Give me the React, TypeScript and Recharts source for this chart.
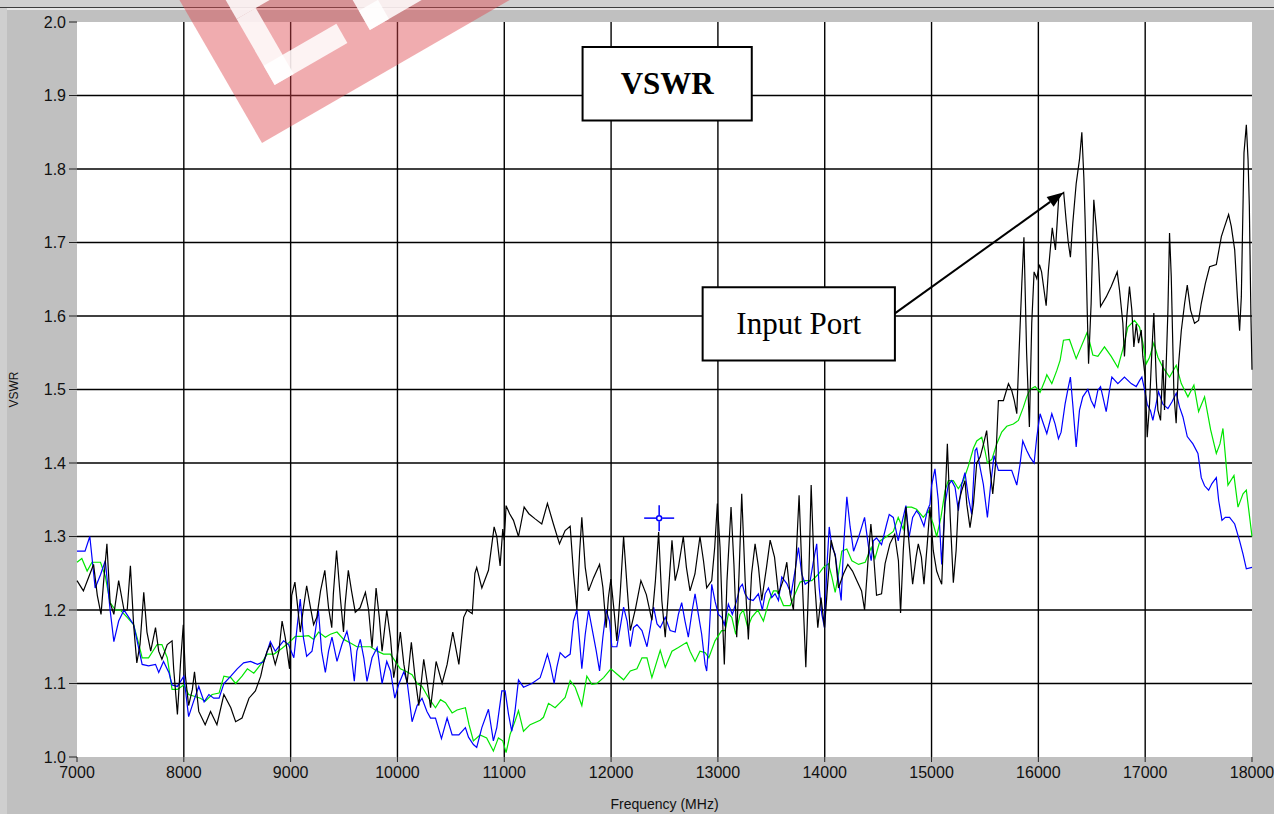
import React from "react";
import {
  CartesianGrid,
  Line,
  LineChart,
  ReferenceArea,
  ReferenceDot,
  ReferenceLine,
  XAxis,
  YAxis,
} from "recharts";

// frequency ticks / grid (MHz)
const freqTicks = [7000, 8000, 9000, 10000, 11000, 12000, 13000, 14000, 15000, 16000, 17000, 18000];
const vswrTicks = [1.0, 1.1, 1.2, 1.3, 1.4, 1.5, 1.6, 1.7, 1.8, 1.9, 2.0];
const freqGrid = [8000, 9000, 10000, 11000, 12000, 13000, 14000, 15000, 16000, 17000];
const vswrGrid = [1.1, 1.2, 1.3, 1.4, 1.5, 1.6, 1.7, 1.8, 1.9];

// black trace (input port)
const blackFreq = [
  7000, 7060, 7110, 7155, 7190, 7225, 7250, 7280, 7310, 7345, 7390, 7440, 7470, 7500, 7530, 7560, 7590, 7625,
  7655, 7690, 7735, 7765, 7795, 7845, 7890, 7905, 7940, 7970, 7995, 8015, 8045, 8080, 8100, 8140, 8200, 8250,
  8310, 8375, 8440, 8485, 8545, 8610, 8670, 8720, 8750, 8780, 8810, 8840, 8856, 8890, 8920, 8950, 8990, 9010,
  9040, 9060, 9090, 9120, 9150, 9180, 9215, 9245, 9280, 9320, 9355, 9385, 9400, 9430, 9465, 9495, 9510, 9540,
  9570, 9605, 9650, 9700, 9730, 9762, 9800, 9830, 9856, 9900, 9935, 9965, 9995, 10027, 10060, 10090, 10130,
  10165, 10200, 10246, 10280, 10310, 10362, 10418, 10465, 10518, 10575, 10620, 10652, 10700, 10725, 10742,
  10790, 10852, 10905, 10930, 10961, 10986, 11000, 11017, 11050, 11086, 11133, 11186, 11230, 11289, 11351,
  11404, 11460, 11517, 11570, 11617, 11648, 11680, 11705, 11726, 11758, 11789, 11836, 11892, 11923, 11954,
  11975, 11998, 12025, 12054, 12085, 12117, 12150, 12180, 12230, 12279, 12330, 12382, 12415, 12445, 12475,
  12507, 12540, 12570, 12600, 12630, 12676, 12705, 12739, 12785, 12832, 12865, 12895, 12942, 12970, 12995,
  13020, 13040, 13060, 13085, 13123, 13150, 13176, 13200, 13223, 13255, 13285, 13315, 13348, 13380, 13410,
  13455, 13489, 13530, 13567, 13610, 13645, 13675, 13707, 13735, 13760, 13790, 13823, 13850, 13873, 13905,
  13935, 13965, 13998, 14030, 14060, 14100, 14129, 14175, 14216, 14260, 14300, 14345, 14373, 14410, 14432,
  14455, 14485, 14532, 14565, 14610, 14655, 14690, 14710, 14735, 14760, 14790, 14823, 14855, 14876, 14905,
  14929, 14960, 14985, 15016, 15048, 15070, 15095, 15120, 15148, 15175, 15204, 15230, 15251, 15282, 15313,
  15330, 15360, 15392, 15423, 15455, 15485, 15516, 15545, 15573, 15600, 15626, 15673, 15720, 15750, 15775,
  15798, 15820, 15845, 15865, 15890, 15916, 15938, 15960, 15985, 16010, 16030, 16073, 16094, 16130, 16160,
  16190, 16213, 16237, 16260, 16280, 16300, 16322, 16354, 16385, 16407, 16426, 16438, 16457, 16470, 16494,
  16519, 16541, 16563, 16582, 16635, 16682, 16738, 16760, 16791, 16806, 16828, 16853, 16875, 16894, 16916,
  16938, 16963, 16978, 17000, 17019, 17041, 17063, 17081, 17103, 17119, 17144, 17166, 17181, 17197, 17213,
  17228, 17244, 17269, 17290, 17313, 17338, 17369, 17394, 17425, 17462, 17500, 17525, 17563, 17603, 17666,
  17713, 17744, 17781, 17806, 17838, 17863, 17884, 17900, 17925, 17947, 17963, 17975, 17990, 18000,
];
const blackVswr = [
  1.24, 1.226, 1.245, 1.262, 1.22, 1.194, 1.24, 1.29, 1.21, 1.194, 1.24, 1.2, 1.2, 1.26, 1.18, 1.128, 1.153, 1.224,
  1.17, 1.144, 1.176, 1.144, 1.133, 1.153, 1.158, 1.12, 1.058, 1.13, 1.18, 1.11, 1.07, 1.092, 1.116, 1.062, 1.044, 1.062,
  1.044, 1.085, 1.067, 1.048, 1.053, 1.08, 1.09, 1.11, 1.13, 1.144, 1.153, 1.135, 1.126, 1.144, 1.185, 1.162, 1.12, 1.22,
  1.238, 1.212, 1.17, 1.203, 1.233, 1.208, 1.18, 1.19, 1.226, 1.254, 1.203, 1.176, 1.222, 1.281, 1.217, 1.17, 1.208, 1.254,
  1.226, 1.197, 1.203, 1.224, 1.2, 1.149, 1.23, 1.19, 1.144, 1.2, 1.162, 1.108, 1.135, 1.17, 1.126, 1.1, 1.156,
  1.108, 1.07, 1.133, 1.1, 1.067, 1.13, 1.1, 1.126, 1.17, 1.126, 1.19, 1.2, 1.195, 1.25, 1.258,
  1.23, 1.254, 1.313, 1.3, 1.26, 1.31, 1.295, 1.342, 1.331, 1.322, 1.3, 1.34, 1.331, 1.324, 1.317,
  1.345, 1.317, 1.29, 1.308, 1.314, 1.25, 1.2, 1.278, 1.326, 1.258, 1.226, 1.244, 1.262, 1.231, 1.176,
  1.217, 1.242, 1.203, 1.158, 1.222, 1.3, 1.231, 1.172, 1.203, 1.24, 1.221, 1.186, 1.24, 1.306, 1.213,
  1.163, 1.231, 1.295, 1.24, 1.258, 1.3, 1.258, 1.226, 1.249, 1.3, 1.267, 1.23, 1.24, 1.285, 1.345,
  1.285, 1.2, 1.126, 1.24, 1.34, 1.262, 1.163, 1.258, 1.358, 1.24, 1.16, 1.249, 1.29, 1.258, 1.213,
  1.258, 1.295, 1.272, 1.222, 1.24, 1.265, 1.222, 1.2, 1.28, 1.356, 1.24, 1.122, 1.24, 1.37, 1.24,
  1.176, 1.217, 1.176, 1.24, 1.295, 1.272, 1.23, 1.249, 1.262, 1.253, 1.24, 1.226, 1.2, 1.277, 1.317,
  1.28, 1.22, 1.222, 1.263, 1.29, 1.303, 1.267, 1.196, 1.28, 1.34, 1.29, 1.235, 1.272, 1.29, 1.272,
  1.235, 1.29, 1.34, 1.281, 1.253, 1.244, 1.235, 1.326, 1.426, 1.326, 1.237, 1.281, 1.344, 1.362, 1.376,
  1.344, 1.312, 1.344, 1.4, 1.408, 1.425, 1.444, 1.394, 1.358, 1.4, 1.485, 1.485, 1.508, 1.499, 1.485,
  1.467, 1.553, 1.644, 1.707, 1.55, 1.449, 1.59, 1.66, 1.651, 1.67, 1.66, 1.614, 1.662, 1.72, 1.69,
  1.76, 1.765, 1.768, 1.73, 1.7, 1.68, 1.726, 1.78, 1.813, 1.85, 1.788, 1.73, 1.61, 1.535, 1.617,
  1.758, 1.722, 1.676, 1.613, 1.626, 1.64, 1.66, 1.635, 1.59, 1.545, 1.599, 1.64, 1.608, 1.558, 1.589,
  1.563, 1.581, 1.545, 1.517, 1.435, 1.481, 1.553, 1.604, 1.517, 1.472, 1.458, 1.54, 1.472, 1.535, 1.608,
  1.713, 1.654, 1.494, 1.454, 1.535, 1.58, 1.617, 1.642, 1.608, 1.59, 1.594, 1.617, 1.644, 1.667, 1.67,
  1.708, 1.722, 1.738, 1.722, 1.69, 1.626, 1.58, 1.626, 1.822, 1.86, 1.813, 1.75, 1.6, 1.527,
];

// blue trace
const blueFreq = [
  7000, 7075, 7120, 7170, 7220, 7265, 7310, 7345, 7390, 7440, 7485, 7530, 7560, 7610, 7670, 7735, 7765, 7810,
  7860, 7890, 7940, 8000, 8045, 8090, 8140, 8190, 8235, 8280, 8330, 8375, 8440, 8500, 8560, 8625, 8690, 8750,
  8810, 8856, 8934, 8980, 9030, 9060, 9090, 9120, 9150, 9200, 9230, 9260, 9290, 9325, 9355, 9387, 9434, 9480,
  9527, 9560, 9596, 9620, 9652, 9685, 9715, 9762, 9810, 9856, 9900, 9935, 9975, 10012, 10060, 10090, 10137,
  10184, 10230, 10276, 10310, 10356, 10412, 10465, 10512, 10575, 10636, 10665, 10711, 10742, 10790, 10852,
  10898, 10930, 10977, 11008, 11040, 11070, 11101, 11133, 11180, 11258, 11336, 11367, 11404, 11430, 11467,
  11492, 11523, 11570, 11617, 11648, 11680, 11705, 11726, 11758, 11789, 11820, 11860, 11892, 11923, 11954,
  11985, 12007, 12054, 12085, 12117, 12150, 12180, 12210, 12242, 12289, 12336, 12367, 12398, 12430, 12460,
  12507, 12553, 12600, 12630, 12661, 12692, 12723, 12760, 12786, 12817, 12848, 12880, 12895, 12915, 12942,
  12973, 13004, 13035, 13060, 13098, 13135, 13176, 13207, 13229, 13254, 13285, 13330, 13379, 13416, 13442,
  13473, 13504, 13535, 13567, 13598, 13645, 13685, 13723, 13754, 13785, 13817, 13864, 13895, 13925, 13948,
  13973, 13998, 14020, 14042, 14067, 14098, 14129, 14154, 14176, 14207, 14238, 14270, 14317, 14373, 14410,
  14435, 14455, 14485, 14532, 14580, 14604, 14642, 14688, 14720, 14760, 14790, 14823, 14860, 14885, 14929,
  14960, 14985, 15001, 15032, 15063, 15095, 15126, 15157, 15188, 15220, 15251, 15282, 15313, 15345, 15376,
  15408, 15423, 15454, 15485, 15523, 15554, 15585, 15626, 15704, 15750, 15798, 15829, 15854, 15891, 15922,
  15960, 15985, 16016, 16048, 16079, 16126, 16157, 16188, 16213, 16250, 16280, 16300, 16322, 16354, 16385,
  16416, 16463, 16494, 16525, 16557, 16582, 16604, 16635, 16666, 16688, 16744, 16806, 16869, 16916, 16947,
  16969, 16994, 17019, 17050, 17072, 17103, 17125, 17166, 17213, 17250, 17291, 17322, 17353, 17394, 17447,
  17494, 17525, 17556, 17594, 17625, 17666, 17688, 17719, 17750, 17790, 17838, 17884, 17916, 17947, 18000,
];
const blueVswr = [
  1.28, 1.28, 1.3, 1.23, 1.248, 1.267, 1.2, 1.157, 1.185, 1.2, 1.19, 1.18, 1.16, 1.126, 1.124, 1.126, 1.115, 1.13,
  1.115, 1.098, 1.096, 1.11, 1.055, 1.075, 1.096, 1.075, 1.085, 1.08, 1.08, 1.1, 1.11, 1.12, 1.128, 1.13, 1.126, 1.13,
  1.157, 1.144, 1.158, 1.153, 1.135, 1.176, 1.215, 1.162, 1.137, 1.144, 1.17, 1.2, 1.144, 1.115, 1.144, 1.163, 1.13, 1.153,
  1.171, 1.149, 1.103, 1.144, 1.16, 1.135, 1.103, 1.135, 1.149, 1.1, 1.13, 1.117, 1.08, 1.099, 1.116, 1.103, 1.048,
  1.07, 1.08, 1.062, 1.053, 1.053, 1.025, 1.053, 1.03, 1.03, 1.04, 1.027, 1.017, 1.013, 1.04, 1.065,
  1.022, 1.04, 1.09, 1.09, 1.058, 1.035, 1.063, 1.105, 1.095, 1.1, 1.108, 1.122, 1.14, 1.126, 1.1,
  1.122, 1.142, 1.135, 1.14, 1.185, 1.2, 1.158, 1.12, 1.167, 1.2, 1.176, 1.145, 1.117, 1.163, 1.2,
  1.185, 1.15, 1.15, 1.176, 1.204, 1.185, 1.15, 1.176, 1.18, 1.172, 1.15, 1.176, 1.204, 1.181, 1.176,
  1.19, 1.172, 1.17, 1.194, 1.21, 1.185, 1.163, 1.2, 1.222, 1.194, 1.167, 1.126, 1.117, 1.158, 1.235,
  1.212, 1.194, 1.19, 1.18, 1.208, 1.194, 1.213, 1.231, 1.235, 1.222, 1.215, 1.213, 1.222, 1.2, 1.222,
  1.23, 1.217, 1.222, 1.213, 1.245, 1.236, 1.222, 1.254, 1.285, 1.249, 1.235, 1.24, 1.267, 1.29, 1.231,
  1.194, 1.176, 1.258, 1.313, 1.286, 1.276, 1.24, 1.213, 1.285, 1.354, 1.313, 1.28, 1.299, 1.326, 1.286,
  1.267, 1.294, 1.298, 1.289, 1.317, 1.33, 1.326, 1.294, 1.317, 1.342, 1.299, 1.326, 1.335, 1.33, 1.314,
  1.335, 1.344, 1.37, 1.392, 1.349, 1.262, 1.344, 1.37, 1.376, 1.367, 1.335, 1.371, 1.387, 1.353, 1.33,
  1.417, 1.42, 1.394, 1.371, 1.326, 1.371, 1.41, 1.39, 1.39, 1.39, 1.37, 1.399, 1.43, 1.417, 1.408,
  1.4, 1.435, 1.467, 1.453, 1.44, 1.467, 1.453, 1.433, 1.442, 1.48, 1.503, 1.517, 1.48, 1.422, 1.472,
  1.49, 1.5, 1.485, 1.476, 1.499, 1.504, 1.49, 1.47, 1.499, 1.517, 1.508, 1.517, 1.508, 1.504, 1.512,
  1.517, 1.5, 1.48, 1.471, 1.458, 1.481, 1.497, 1.48, 1.474, 1.483, 1.495, 1.476, 1.463, 1.436, 1.426,
  1.413, 1.38, 1.369, 1.363, 1.372, 1.38, 1.349, 1.322, 1.326, 1.326, 1.317, 1.294, 1.276, 1.256, 1.258,
];

// green trace
const greenFreq = [
  7000, 7045, 7095, 7140, 7220, 7265, 7310, 7360, 7405, 7470, 7530, 7580, 7610, 7670, 7750, 7795, 7845, 7890,
  7940, 8000, 8045, 8090, 8155, 8200, 8265, 8330, 8375, 8440, 8485, 8545, 8595, 8655, 8720, 8780, 8845, 8920,
  8980, 9044, 9106, 9168, 9215, 9262, 9325, 9372, 9434, 9496, 9560, 9620, 9685, 9746, 9810, 9870, 9934, 9980,
  10027, 10074, 10137, 10184, 10230, 10293, 10356, 10403, 10450, 10512, 10558, 10636, 10670, 10711, 10773,
  10835, 10898, 10945, 10986, 11017, 11055, 11101, 11133, 11180, 11242, 11336, 11367, 11414, 11476, 11523,
  11570, 11617, 11664, 11726, 11773, 11820, 11867, 11930, 11998, 12054, 12117, 12180, 12242, 12289, 12336,
  12382, 12460, 12507, 12570, 12630, 12708, 12739, 12786, 12832, 12880, 12915, 12973, 13035, 13067, 13098,
  13130, 13167, 13207, 13238, 13279, 13317, 13373, 13426, 13480, 13520, 13551, 13583, 13614, 13676, 13723,
  13770, 13817, 13879, 13942, 13988, 14035, 14067, 14098, 14129, 14160, 14207, 14254, 14317, 14379, 14435,
  14470, 14517, 14580, 14642, 14688, 14735, 14766, 14813, 14860, 14923, 14970, 15016, 15048, 15088, 15126,
  15157, 15204, 15251, 15298, 15345, 15392, 15423, 15470, 15500, 15523, 15565, 15610, 15657, 15704, 15766,
  15813, 15860, 15891, 15922, 15970, 16016, 16063, 16079, 16126, 16173, 16204, 16235, 16291, 16354, 16400,
  16457, 16510, 16557, 16619, 16682, 16744, 16791, 16838, 16900, 16947, 16979, 17010, 17041, 17081, 17119,
  17166, 17228, 17291, 17338, 17400, 17456, 17500, 17556, 17613, 17666, 17700, 17728, 17775, 17831, 17869,
  17916, 17947, 18000,
];
const greenVswr = [
  1.265, 1.27, 1.253, 1.265, 1.265, 1.246, 1.21, 1.2, 1.2, 1.19, 1.18, 1.153, 1.135, 1.135, 1.153, 1.153, 1.135, 1.092,
  1.092, 1.098, 1.085, 1.083, 1.08, 1.076, 1.085, 1.087, 1.11, 1.108, 1.1, 1.11, 1.12, 1.114, 1.126, 1.14, 1.14, 1.148,
  1.155, 1.164, 1.164, 1.165, 1.16, 1.17, 1.163, 1.167, 1.17, 1.16, 1.155, 1.15, 1.15, 1.15, 1.144, 1.14, 1.14, 1.13,
  1.12, 1.117, 1.112, 1.1, 1.096, 1.08, 1.067, 1.078, 1.074, 1.06, 1.064, 1.067, 1.044, 1.022, 1.03,
  1.026, 1.008, 1.026, 1.022, 1.006, 1.031, 1.049, 1.063, 1.035, 1.044, 1.05, 1.054, 1.073, 1.067, 1.074,
  1.081, 1.104, 1.095, 1.07, 1.11, 1.099, 1.1, 1.108, 1.12, 1.113, 1.105, 1.117, 1.12, 1.135, 1.135,
  1.108, 1.145, 1.122, 1.144, 1.149, 1.156, 1.144, 1.13, 1.144, 1.142, 1.135, 1.158, 1.172, 1.172, 1.195,
  1.19, 1.167, 1.194, 1.2, 1.176, 1.19, 1.2, 1.185, 1.213, 1.226, 1.226, 1.217, 1.206, 1.206, 1.222,
  1.238, 1.24, 1.24, 1.249, 1.258, 1.263, 1.245, 1.224, 1.249, 1.28, 1.283, 1.267, 1.262, 1.265, 1.285,
  1.27, 1.294, 1.3, 1.307, 1.326, 1.31, 1.34, 1.34, 1.337, 1.326, 1.335, 1.317, 1.3, 1.326, 1.362,
  1.376, 1.376, 1.365, 1.376, 1.396, 1.42, 1.43, 1.435, 1.417, 1.4, 1.405, 1.426, 1.442, 1.45, 1.453,
  1.458, 1.476, 1.49, 1.5, 1.504, 1.496, 1.513, 1.52, 1.508, 1.526, 1.54, 1.567, 1.568, 1.542, 1.558,
  1.578, 1.547, 1.545, 1.558, 1.545, 1.53, 1.555, 1.585, 1.594, 1.585, 1.563, 1.535, 1.544, 1.563, 1.544,
  1.53, 1.517, 1.533, 1.508, 1.49, 1.506, 1.47, 1.49, 1.445, 1.413, 1.426, 1.447, 1.37, 1.383, 1.34,
  1.358, 1.363, 1.3,
];

// annotations, in data coordinates
const titleBox = { x1: 11733, x2: 13317, y1: 1.866, y2: 1.966 };
const portBox = { x1: 12857, x2: 14657, y1: 1.5395, y2: 1.639 };
const portArrow = [
  { x: 14657, y: 1.6035 },
  { x: 16232, y: 1.768 },
];
const cursor = { x: 12450, y: 1.325 };

const toPoints = (fs: number[], vs: number[]) => fs.map((f, i) => ({ f, v: vs[i] }));
const blackData = toPoints(blackFreq, blackVswr);
const blueData = toPoints(blueFreq, blueVswr);
const greenData = toPoints(greenFreq, greenVswr);

const tickFont = { fontSize: 16, fill: "#111", fontFamily: "Liberation Sans, Arial, sans-serif" };

function BoxText(props: any) {
  const vb = props.viewBox || {};
  return (
    <text
      x={vb.x + vb.width / 2}
      y={vb.y + vb.height / 2}
      textAnchor="middle"
      dominantBaseline="central"
      fontFamily="Liberation Serif, Times New Roman, serif"
      fontSize={31}
      fontWeight={props.bold ? 700 : 400}
      fill="#000"
    >
      {props.text}
    </text>
  );
}

function Arrow(props: any) {
  const { x1, y1, x2, y2 } = props;
  const ang = Math.atan2(y2 - y1, x2 - x1);
  const len = 16;
  const w = 6;
  const bx = x2 - len * Math.cos(ang);
  const by = y2 - len * Math.sin(ang);
  const px = -Math.sin(ang) * w;
  const py = Math.cos(ang) * w;
  return (
    <g>
      <line x1={x1} y1={y1} x2={bx} y2={by} stroke="#000" strokeWidth={2} />
      <polygon points={`${x2},${y2} ${bx + px},${by + py} ${bx - px},${by - py}`} fill="#000" />
    </g>
  );
}

function Cursor(props: any) {
  const { cx, cy } = props;
  return (
    <g stroke="#0000ff" strokeWidth={1.5} fill="none">
      <line x1={cx - 15} y1={cy} x2={cx - 3} y2={cy} />
      <line x1={cx + 3} y1={cy} x2={cx + 15} y2={cy} />
      <line x1={cx} y1={cy - 13} x2={cx} y2={cy - 3} />
      <line x1={cx} y1={cy + 3} x2={cx} y2={cy + 13} />
      <circle cx={cx} cy={cy} r={2.5} />
    </g>
  );
}

function YTitle(props: any) {
  const vb = props.viewBox || {};
  const cx = vb.x + 14;
  const cy = vb.y + vb.height / 2;
  return (
    <text
      x={cx}
      y={cy}
      transform={`rotate(-90 ${cx} ${cy})`}
      textAnchor="middle"
      dominantBaseline="central"
      fontFamily="Liberation Sans, Arial, sans-serif"
      fontSize={12}
      fill="#111"
    >
      VSWR
    </text>
  );
}

export default function App() {
  return (
    <div
      style={{
        position: "absolute",
        left: 0,
        top: 0,
        width: 1274,
        height: 814,
        background: "#cfcfcf",
        overflow: "hidden",
      }}
    >
      <div style={{ position: "absolute", left: 0, top: 7, width: 1274, height: 1, background: "#3c3c3c" }} />
      <div
        style={{
          position: "absolute",
          left: 7,
          top: 8,
          width: 1267,
          height: 806,
          background: "#c0c0c0",
          borderTop: "2px solid #e6e6e6",
          boxSizing: "border-box",
        }}
      />
      <div style={{ position: "absolute", left: 0, top: 0 }}>
        <LineChart width={1274} height={814} margin={{ top: 22, right: 22, left: 0, bottom: 0 }}>
          <CartesianGrid
            fill="#ffffff"
            fillOpacity={1}
            stroke="#000000"
            strokeWidth={1.4}
            horizontalValues={vswrGrid}
            verticalValues={freqGrid}
          />
          <XAxis
            dataKey="f"
            type="number"
            domain={[7000, 18000]}
            ticks={freqTicks}
            allowDuplicatedCategory={false}
            axisLine={false}
            tickLine={{ stroke: "#222" }}
            tickSize={5}
            tickMargin={5}
            tick={tickFont}
            height={57}
            interval={0}
            label={{
              value: "Frequency (MHz)",
              position: "insideBottom",
              offset: 5,
              fontSize: 14,
              fill: "#111",
              fontFamily: "Liberation Sans, Arial, sans-serif",
            }}
          />
          <YAxis
            dataKey="v"
            type="number"
            domain={[1, 2]}
            ticks={vswrTicks}
            interval={0}
            width={77}
            axisLine={false}
            tickLine={{ stroke: "#222" }}
            tickSize={8}
            tickMargin={3}
            tick={tickFont}
            tickFormatter={(v: number) => v.toFixed(1)}
            label={<YTitle />}
          />
          <Line
            data={greenData}
            dataKey="v"
            type="linear"
            stroke="#00e600"
            strokeWidth={1.2}
            dot={false}
            isAnimationActive={false}
          />
          <Line
            data={blueData}
            dataKey="v"
            type="linear"
            stroke="#0000ff"
            strokeWidth={1.2}
            dot={false}
            isAnimationActive={false}
          />
          <Line
            data={blackData}
            dataKey="v"
            type="linear"
            stroke="#000000"
            strokeWidth={1.2}
            dot={false}
            isAnimationActive={false}
          />
          <ReferenceDot x={cursor.x} y={cursor.y} r={3} shape={(p: any) => <Cursor {...p} />} />
          <ReferenceArea
            {...titleBox}
            fill="#ffffff"
            fillOpacity={1}
            stroke="#000"
            strokeWidth={2}
            label={<BoxText text="VSWR" bold />}
          />
          <ReferenceArea
            {...portBox}
            fill="#ffffff"
            fillOpacity={1}
            stroke="#000"
            strokeWidth={2}
            label={<BoxText text="Input Port" />}
          />
          <ReferenceLine segment={portArrow} stroke="#000" shape={(p: any) => <Arrow {...p} />} />
        </LineChart>
      </div>
      {/* red watermark in the top-left */}
      <svg
        width={1274}
        height={814}
        style={{ position: "absolute", left: 0, top: 0, pointerEvents: "none" }}
      >
        <g transform="translate(262 143) rotate(-30)">
          <rect x={0} y={-330} width={340} height={330} fill="rgb(222,70,78)" fillOpacity={0.45} />
          <g fill="#ffffff" fillOpacity={0.85}>
            <rect x={40} y={-120} width={22} height={76} />
            <rect x={40} y={-66} width={84} height={22} />
            <rect x={40} y={-142} width={84} height={22} />
            <rect x={150} y={-130} width={22} height={86} />
            <rect x={150} y={-66} width={90} height={22} />
            <rect x={150} y={-142} width={90} height={22} />
          </g>
        </g>
      </svg>
    </div>
  );
}
